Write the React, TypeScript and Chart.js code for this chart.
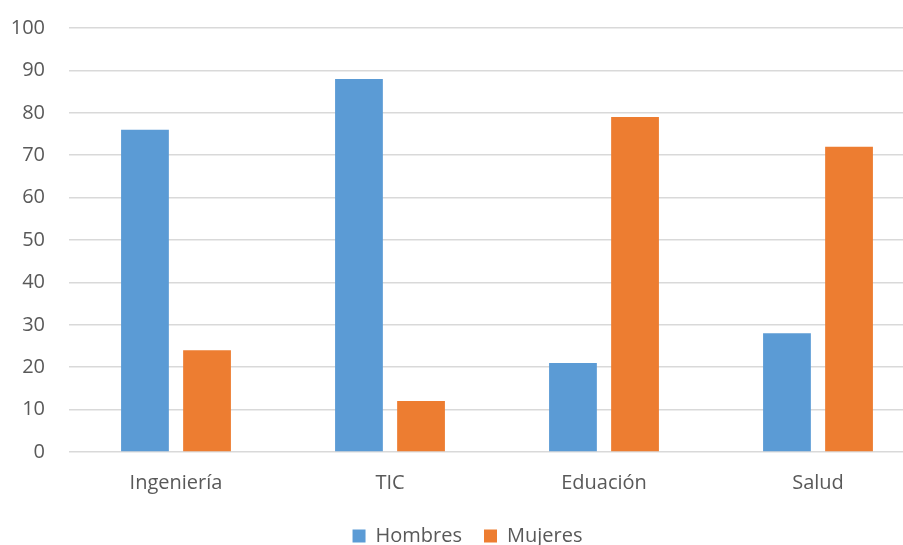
import React, { useEffect, useRef } from "react";
import { Chart, registerables } from "chart.js";

Chart.register(...registerables);

const categories = ["Ingeniería", "TIC", "Eduación", "Salud"];
const hombres = [76, 88, 21, 28];
const mujeres = [24, 12, 79, 72];
const seriesNames = ["Hombres", "Mujeres"];

export default function App() {
  const ref = useRef<HTMLCanvasElement>(null);
  useEffect(() => {
    const font = { family: "'Open Sans', 'Noto Sans', sans-serif", size: 20 };
    const chart = new Chart(ref.current!, {
      type: "bar",
      data: {
        labels: categories,
        datasets: [
          {
            label: seriesNames[0],
            data: hombres,
            backgroundColor: "#5B9BD5",
            categoryPercentage: 0.58,
            barPercentage: 0.77,
          },
          {
            label: seriesNames[1],
            data: mujeres,
            backgroundColor: "#ED7D31",
            categoryPercentage: 0.58,
            barPercentage: 0.77,
          },
        ],
      },
      options: {
        responsive: false,
        animation: false,
        layout: { padding: { top: 2, left: 10, right: 30, bottom: 0 } },
        plugins: {
          tooltip: { enabled: false },
          legend: {
            position: "bottom",
            labels: {
              font,
              color: "#595959",
              boxWidth: 13,
              boxHeight: 13,
              padding: 22,
            },
          },
        },
        scales: {
          x: {
            grid: { display: false },
            border: { display: false },
            ticks: { font, color: "#595959", padding: 11 },
            afterFit: (s: any) => {
              s.height -= 2;
            },
          },
          y: {
            min: 0,
            max: 100,
            ticks: { stepSize: 10, font, color: "#595959", padding: 24 },
            grid: { color: "#d9d9d9", lineWidth: 1.5, drawTicks: false },
            border: { display: false },
            afterFit: (s: any) => {
              s.width = 59;
            },
          },
        },
      },
    });
    return () => chart.destroy();
  }, []);
  return (
    <div style={{ position: "fixed", left: 0, top: 0, width: 903, height: 545, overflow: "hidden", background: "#fff" }}>
      <canvas ref={ref} width={955} height={564} style={{ width: 955, height: 564, display: "block", marginTop: -8 }} />
    </div>
  );
}
